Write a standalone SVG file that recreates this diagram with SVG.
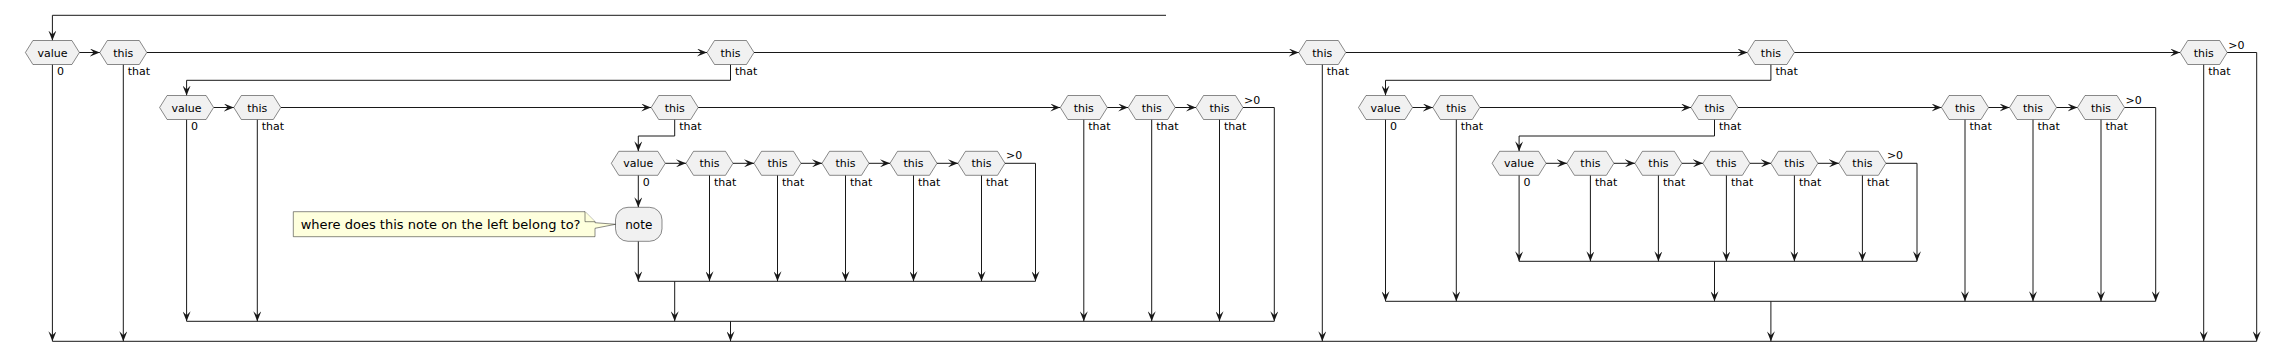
<svg xmlns="http://www.w3.org/2000/svg" xmlns:xlink="http://www.w3.org/1999/xlink" width="2291" height="361" viewBox="0 0 2291 361">
<style>
.hx{fill:#F1F1F1;stroke:#181818;stroke-width:0.5}
.act{fill:#F1F1F1;stroke:#181818;stroke-width:0.5}
.nt{fill:#FEFFDD;stroke:#181818;stroke-width:0.5}
.c{fill:none;stroke:#181818;stroke-width:1}
.a{marker-end:url(#ah)}
.t{font-family:"DejaVu Sans",Verdana,sans-serif;font-size:11px;fill:#000;text-anchor:middle}
.l{font-family:"DejaVu Sans",Verdana,sans-serif;font-size:11px;fill:#000}
.at{font-family:"DejaVu Sans",Verdana,sans-serif;font-size:12px;fill:#000;text-anchor:middle}
.n{font-family:"DejaVu Sans",Verdana,sans-serif;font-size:13px;fill:#000}
</style>
<defs>
<marker id="ah" markerUnits="userSpaceOnUse" markerWidth="10" markerHeight="8" refX="10" refY="4" orient="auto">
<path d="M0,0 L10,4 L0,8 L4,4 Z" fill="#181818"/>
</marker>
<polygon id="hT" class="hx" points="-23.5,0 -16,-12 16,-12 23.5,0 16,12 -16,12"/>
<polygon id="hV" class="hx" points="-27,0 -19.5,-12 19.5,-12 27,0 19.5,12 -19.5,12"/>
</defs>

<g id="connectors">
<!-- top loop -->
<path class="c a" d="M1166,15.3 H52.4 V40.5"/>
<!-- row 1 -->
<path class="c a" d="M79.4,52.5 H99.8"/>
<path class="c a" d="M146.8,52.5 H707"/>
<path class="c a" d="M754,52.5 H1298.8"/>
<path class="c a" d="M1345.8,52.5 H1747.4"/>
<path class="c a" d="M1794.4,52.5 H2180.2"/>
<path class="c a" d="M2227.2,52.5 H2256.7 V341.3"/>
<path class="c a" d="M52.4,64.5 V341.3"/>
<path class="c a" d="M123.3,64.5 V341.3"/>
<path class="c a" d="M730.5,64.5 V80.3 H186.6 V95.5"/>
<path class="c a" d="M1322.3,64.5 V341.3"/>
<path class="c a" d="M1770.9,64.5 V80.3 H1385.5 V95.5"/>
<path class="c a" d="M2203.7,64.5 V341.3"/>
<path class="c a" d="M730.5,321.3 V341.3"/>
<path class="c a" d="M1770.9,301.3 V341.3"/>
<path class="c" d="M52.4,341.3 H2256.7"/>
<!-- left block row 2 -->
<path class="c a" d="M213.6,107.5 H233.8"/>
<path class="c a" d="M280.8,107.5 H651.2"/>
<path class="c a" d="M698.2,107.5 H1060.3"/>
<path class="c a" d="M1107.3,107.5 H1128.2"/>
<path class="c a" d="M1175.2,107.5 H1196"/>
<path class="c a" d="M1243,107.5 H1274.3 V321.3"/>
<path class="c a" d="M186.6,119.5 V321.3"/>
<path class="c a" d="M257.3,119.5 V321.3"/>
<path class="c a" d="M674.7,119.5 V136 H638.3 V151.3"/>
<path class="c a" d="M1083.8,119.5 V321.3"/>
<path class="c a" d="M1151.7,119.5 V321.3"/>
<path class="c a" d="M1219.5,119.5 V321.3"/>
<path class="c a" d="M674.7,281.3 V321.3"/>
<path class="c" d="M186.6,321.3 H1274.3"/>
<!-- left block row 3 -->
<path class="c a" d="M665.3,163.3 H686"/>
<path class="c a" d="M733,163.3 H754"/>
<path class="c a" d="M801,163.3 H822"/>
<path class="c a" d="M869,163.3 H890"/>
<path class="c a" d="M937,163.3 H958"/>
<path class="c a" d="M1005,163.3 H1035.5 V281.3"/>
<path class="c a" d="M638.3,175.3 V207.3"/>
<path class="c a" d="M638.3,241.3 V281.3"/>
<path class="c a" d="M709.5,175.3 V281.3"/>
<path class="c a" d="M777.5,175.3 V281.3"/>
<path class="c a" d="M845.5,175.3 V281.3"/>
<path class="c a" d="M913.5,175.3 V281.3"/>
<path class="c a" d="M981.5,175.3 V281.3"/>
<path class="c" d="M638.3,281.3 H1035.5"/>
<!-- right block row 2 -->
<path class="c a" d="M1412.5,107.5 H1432.8"/>
<path class="c a" d="M1479.8,107.5 H1691"/>
<path class="c a" d="M1738,107.5 H1941.5"/>
<path class="c a" d="M1988.5,107.5 H2009.5"/>
<path class="c a" d="M2056.5,107.5 H2077.5"/>
<path class="c a" d="M2124.5,107.5 H2155.7 V301.3"/>
<path class="c a" d="M1385.5,119.5 V301.3"/>
<path class="c a" d="M1456.3,119.5 V301.3"/>
<path class="c a" d="M1714.5,119.5 V136 H1519.1 V151.3"/>
<path class="c a" d="M1965,119.5 V301.3"/>
<path class="c a" d="M2033,119.5 V301.3"/>
<path class="c a" d="M2101,119.5 V301.3"/>
<path class="c a" d="M1714.5,261.3 V301.3"/>
<path class="c" d="M1385.5,301.3 H2155.7"/>
<!-- right block row 3 -->
<path class="c a" d="M1546.1,163.3 H1566.9"/>
<path class="c a" d="M1613.9,163.3 H1634.9"/>
<path class="c a" d="M1681.9,163.3 H1702.9"/>
<path class="c a" d="M1749.9,163.3 H1770.9"/>
<path class="c a" d="M1817.9,163.3 H1838.9"/>
<path class="c a" d="M1885.9,163.3 H1917 V261.3"/>
<path class="c a" d="M1519.1,175.3 V261.3"/>
<path class="c a" d="M1590.4,175.3 V261.3"/>
<path class="c a" d="M1658.4,175.3 V261.3"/>
<path class="c a" d="M1726.4,175.3 V261.3"/>
<path class="c a" d="M1794.4,175.3 V261.3"/>
<path class="c a" d="M1862.4,175.3 V261.3"/>
<path class="c" d="M1519.1,261.3 H1917"/>
</g>

<!-- row 1 nodes -->
<g id="r1-value"><use xlink:href="#hV" x="52.4" y="52.5"/><text class="t" x="52.4" y="56.5">value</text><text class="l" x="56.9" y="75">0</text></g>
<g id="r1-this1"><use xlink:href="#hT" x="123.3" y="52.5"/><text class="t" x="123.3" y="56.5">this</text><text class="l" x="127.8" y="75">that</text></g>
<g id="r1-this2"><use xlink:href="#hT" x="730.5" y="52.5"/><text class="t" x="730.5" y="56.5">this</text><text class="l" x="735" y="75">that</text></g>
<g id="r1-this3"><use xlink:href="#hT" x="1322.3" y="52.5"/><text class="t" x="1322.3" y="56.5">this</text><text class="l" x="1326.8" y="75">that</text></g>
<g id="r1-this4"><use xlink:href="#hT" x="1770.9" y="52.5"/><text class="t" x="1770.9" y="56.5">this</text><text class="l" x="1775.4" y="75">that</text></g>
<g id="r1-this5"><use xlink:href="#hT" x="2203.7" y="52.5"/><text class="t" x="2203.7" y="56.5">this</text><text class="l" x="2208.2" y="75">that</text><text class="l" x="2228.2" y="48.5">&gt;0</text></g>

<!-- left block row 2 -->
<g id="l2-value"><use xlink:href="#hV" x="186.6" y="107.5"/><text class="t" x="186.6" y="111.5">value</text><text class="l" x="191.1" y="130">0</text></g>
<g id="l2-this1"><use xlink:href="#hT" x="257.3" y="107.5"/><text class="t" x="257.3" y="111.5">this</text><text class="l" x="261.8" y="130">that</text></g>
<g id="l2-this2"><use xlink:href="#hT" x="674.7" y="107.5"/><text class="t" x="674.7" y="111.5">this</text><text class="l" x="679.2" y="130">that</text></g>
<g id="l2-this3"><use xlink:href="#hT" x="1083.8" y="107.5"/><text class="t" x="1083.8" y="111.5">this</text><text class="l" x="1088.3" y="130">that</text></g>
<g id="l2-this4"><use xlink:href="#hT" x="1151.7" y="107.5"/><text class="t" x="1151.7" y="111.5">this</text><text class="l" x="1156.2" y="130">that</text></g>
<g id="l2-this5"><use xlink:href="#hT" x="1219.5" y="107.5"/><text class="t" x="1219.5" y="111.5">this</text><text class="l" x="1224" y="130">that</text><text class="l" x="1244" y="103.5">&gt;0</text></g>

<!-- left block row 3 -->
<g id="l3-value"><use xlink:href="#hV" x="638.3" y="163.3"/><text class="t" x="638.3" y="167.3">value</text><text class="l" x="642.8" y="185.8">0</text></g>
<g id="l3-this1"><use xlink:href="#hT" x="709.5" y="163.3"/><text class="t" x="709.5" y="167.3">this</text><text class="l" x="714" y="185.8">that</text></g>
<g id="l3-this2"><use xlink:href="#hT" x="777.5" y="163.3"/><text class="t" x="777.5" y="167.3">this</text><text class="l" x="782" y="185.8">that</text></g>
<g id="l3-this3"><use xlink:href="#hT" x="845.5" y="163.3"/><text class="t" x="845.5" y="167.3">this</text><text class="l" x="850" y="185.8">that</text></g>
<g id="l3-this4"><use xlink:href="#hT" x="913.5" y="163.3"/><text class="t" x="913.5" y="167.3">this</text><text class="l" x="918" y="185.8">that</text></g>
<g id="l3-this5"><use xlink:href="#hT" x="981.5" y="163.3"/><text class="t" x="981.5" y="167.3">this</text><text class="l" x="986" y="185.8">that</text><text class="l" x="1006" y="159.3">&gt;0</text></g>

<g id="note-activity"><rect class="act" x="615.5" y="207.3" width="46.5" height="34" rx="12.5" ry="12.5"/><text class="at" x="638.8" y="228.5">note</text></g>
<g id="note-comment">
<path class="nt" d="M293.3,211.7 H585 L595,221.7 V222.7 L615.5,224.3 L595,228.3 V236.7 H293.3 Z"/>
<path class="nt" d="M585,211.7 V221.7 H595"/>
<text class="n" x="300.7" y="229.3">where does this note on the left belong to?</text>
</g>

<!-- right block row 2 -->
<g id="r2-value"><use xlink:href="#hV" x="1385.5" y="107.5"/><text class="t" x="1385.5" y="111.5">value</text><text class="l" x="1390" y="130">0</text></g>
<g id="r2-this1"><use xlink:href="#hT" x="1456.3" y="107.5"/><text class="t" x="1456.3" y="111.5">this</text><text class="l" x="1460.8" y="130">that</text></g>
<g id="r2-this2"><use xlink:href="#hT" x="1714.5" y="107.5"/><text class="t" x="1714.5" y="111.5">this</text><text class="l" x="1719" y="130">that</text></g>
<g id="r2-this3"><use xlink:href="#hT" x="1965" y="107.5"/><text class="t" x="1965" y="111.5">this</text><text class="l" x="1969.5" y="130">that</text></g>
<g id="r2-this4"><use xlink:href="#hT" x="2033" y="107.5"/><text class="t" x="2033" y="111.5">this</text><text class="l" x="2037.5" y="130">that</text></g>
<g id="r2-this5"><use xlink:href="#hT" x="2101" y="107.5"/><text class="t" x="2101" y="111.5">this</text><text class="l" x="2105.5" y="130">that</text><text class="l" x="2125.5" y="103.5">&gt;0</text></g>

<!-- right block row 3 -->
<g id="r3-value"><use xlink:href="#hV" x="1519.1" y="163.3"/><text class="t" x="1519.1" y="167.3">value</text><text class="l" x="1523.6" y="185.8">0</text></g>
<g id="r3-this1"><use xlink:href="#hT" x="1590.4" y="163.3"/><text class="t" x="1590.4" y="167.3">this</text><text class="l" x="1594.9" y="185.8">that</text></g>
<g id="r3-this2"><use xlink:href="#hT" x="1658.4" y="163.3"/><text class="t" x="1658.4" y="167.3">this</text><text class="l" x="1662.9" y="185.8">that</text></g>
<g id="r3-this3"><use xlink:href="#hT" x="1726.4" y="163.3"/><text class="t" x="1726.4" y="167.3">this</text><text class="l" x="1730.9" y="185.8">that</text></g>
<g id="r3-this4"><use xlink:href="#hT" x="1794.4" y="163.3"/><text class="t" x="1794.4" y="167.3">this</text><text class="l" x="1798.9" y="185.8">that</text></g>
<g id="r3-this5"><use xlink:href="#hT" x="1862.4" y="163.3"/><text class="t" x="1862.4" y="167.3">this</text><text class="l" x="1866.9" y="185.8">that</text><text class="l" x="1886.9" y="159.3">&gt;0</text></g>
</svg>
